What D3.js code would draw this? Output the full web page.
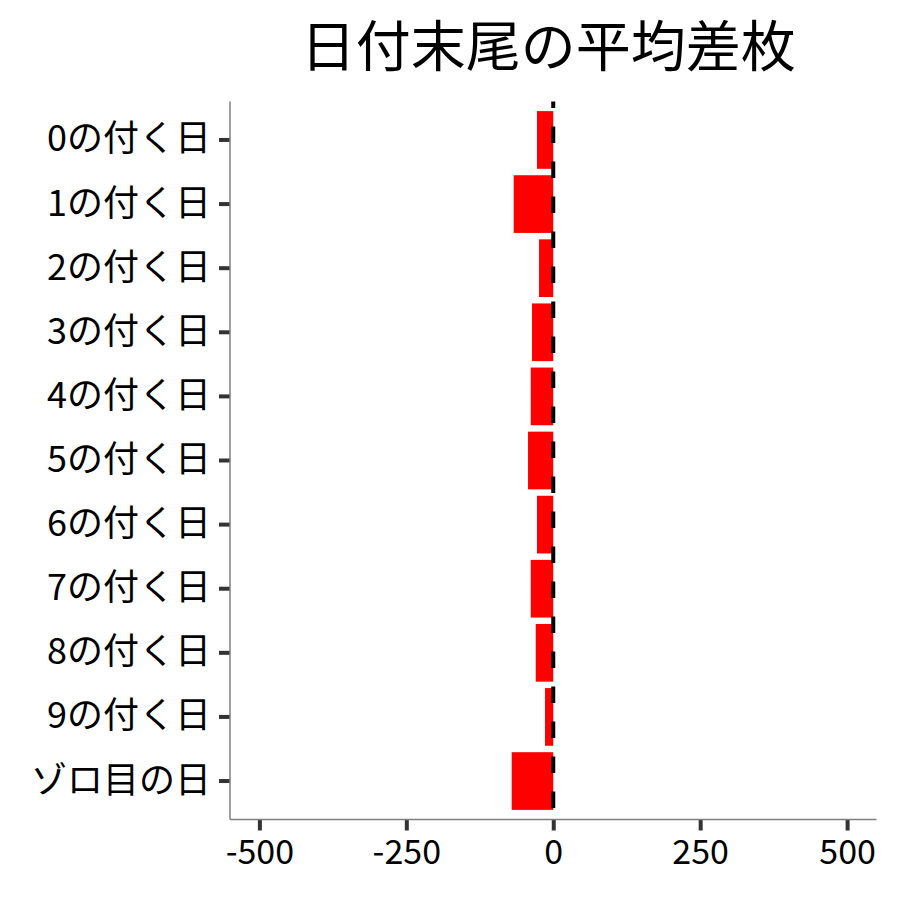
<!DOCTYPE html>
<html>
<head>
<meta charset="utf-8">
<script src="https://cdn.jsdelivr.net/npm/d3@7"></script>
<style>
  body { margin: 0; background: #fff; }
  text { font-family: "Noto Sans CJK JP", "Noto Sans", sans-serif; }
</style>
</head>
<body>
<div id="vis"></div>
<script>
// data
var days = ["0の付く日", "1の付く日", "2の付く日", "3の付く日", "4の付く日",
            "5の付く日", "6の付く日", "7の付く日", "8の付く日", "9の付く日", "ゾロ目の日"];
var meanDiff = [-27.6, -67.3, -24.2, -36.1, -38.3, -42.9, -27.6, -38.3, -29.8, -14.0, -70.7];
var xTicks = [-500, -250, 0, 250, 500];
var title = "日付末尾の平均差枚";

var width = 900, height = 900;
var margin = {top: 101.5, right: 23.5, bottom: 80.5, left: 230};
var innerW = width - margin.left - margin.right,
    innerH = height - margin.top - margin.bottom;

var svg = d3.select("#vis").append("svg")
    .attr("width", width)
    .attr("height", height);

var g = svg.append("g")
    .attr("transform", "translate(" + margin.left + "," + margin.top + ")");

var data = days.map(function(d, i) { return {day: d, value: meanDiff[i]}; });

// x scale, symmetric around zero
var x = d3.scaleLinear()
    .domain([-550, 550])
    .range([0, innerW]);

// bars take 0.9 of a step, 0.6 step of room at each end (like ggplot)
var y = d3.scaleBand()
    .domain(days)
    .range([0, innerH])
    .paddingInner(0.1)
    .paddingOuter(0.15);

// bars
g.selectAll("rect.bar")
  .data(data)
  .enter().append("rect")
    .attr("class", "bar")
    .attr("x", function(d) { return x(Math.min(0, d.value)); })
    .attr("y", function(d) { return y(d.day); })
    .attr("width", function(d) { return Math.abs(x(d.value) - x(0)); })
    .attr("height", y.bandwidth())
    .attr("fill", "#ff0000");

// dashed zero line
g.append("line")
    .attr("x1", x(0)).attr("x2", x(0))
    .attr("y1", 0).attr("y2", innerH)
    .attr("stroke", "#000")
    .attr("stroke-width", 4)
    .attr("stroke-dasharray", "16.5,18.5")
    .attr("stroke-dashoffset", 10);

// x axis
var xAxis = g.append("g")
    .attr("transform", "translate(0," + innerH + ")")
    .call(d3.axisBottom(x).tickValues(xTicks)
      .tickFormat(function(d) { return String(d); })
      .tickSize(11).tickPadding(9));

xAxis.select(".domain").remove();
xAxis.selectAll(".tick line").attr("stroke", "#333").attr("stroke-width", 4);
xAxis.selectAll(".tick text")
    .attr("fill", "#000")
    .style("font-size", "34px");

// y axis
var yAxis = g.append("g")
    .call(d3.axisLeft(y).tickSize(11).tickPadding(8));

yAxis.select(".domain").remove();
yAxis.selectAll(".tick line").attr("stroke", "#333").attr("stroke-width", 4);
yAxis.selectAll(".tick text")
    .attr("fill", "#000")
    .style("font-size", "36px");

// axis lines drawn on top
g.append("line")
    .attr("x1", 0).attr("x2", 0)
    .attr("y1", 0).attr("y2", innerH)
    .attr("stroke", "#7f7f7f").attr("stroke-width", 1.5);
g.append("line")
    .attr("x1", 0).attr("x2", innerW)
    .attr("y1", innerH).attr("y2", innerH)
    .attr("stroke", "#7f7f7f").attr("stroke-width", 1.5);

// title, roughly centred over the panel
svg.append("text")
    .attr("x", margin.left + innerW / 2 - 5)
    .attr("y", 66)
    .attr("text-anchor", "middle")
    .attr("fill", "#000")
    .style("font-size", "55px")
    .text(title);
</script>
</body>
</html>
